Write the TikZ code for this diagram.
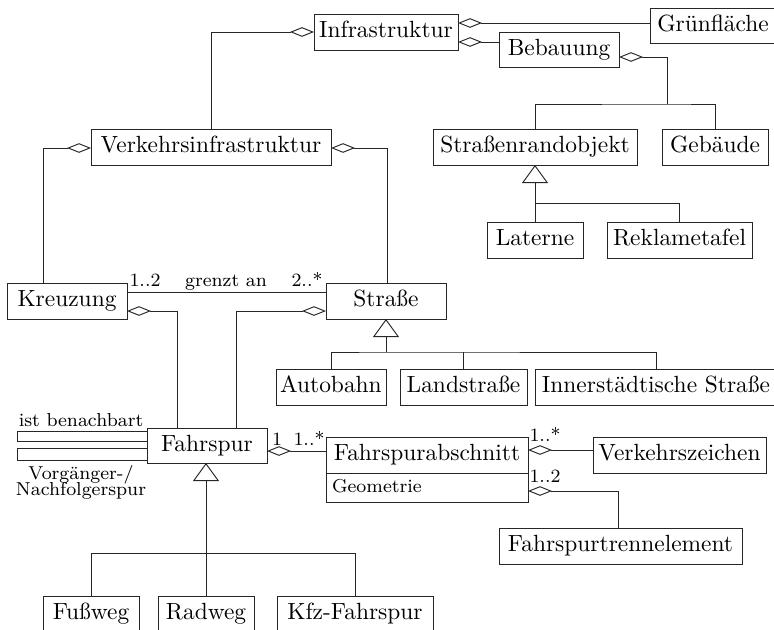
\documentclass[tikz,border=0pt]{standalone}
\usepackage{fontspec}
\usetikzlibrary{arrows.meta}

% class box given by its corners (x1,y1)-(x2,y2) in picture units
\newcommand\umlclass[6]{%
  \node[cls, minimum width={(#4-#2)*0.427pt}, minimum height={(#5-#3)*0.427pt}]
    (#1) at ({(#2+#4)/2},{(#3+#5)/2}) {#6};}

\tikzset{
  cls/.style={draw, rectangle, inner sep=0pt, outer sep=0pt,
    text height=6.94pt, text depth=1.94pt},
  lab/.style={font=\footnotesize, inner sep=0pt, anchor=base},
  agg/.style={{Diamond[open,length=10.25pt,width=4.1pt]}-},
  gen/.style={-{Triangle[open,length=7.7pt,width=11.1pt]}},
}

\begin{document}
\begin{tikzpicture}[x=0.427pt, y=-0.427pt, line width=0.4pt, draw=black!85]
\useasboundingbox (0,0) rectangle (774,629);

% classes
\umlclass{infra}{314}{14}{458}{50}{Infrastruktur}
\umlclass{gruen}{650}{8}{776}{43}{Grünfläche}
\umlclass{bebau}{499}{32}{619}{67}{Bebauung}
\umlclass{vinfra}{91}{129}{331}{165}{Verkehrsinfrastruktur}
\umlclass{srand}{433}{129}{637}{165}{Straßenrandobjekt}
\umlclass{geb}{662}{129}{768}{165}{Gebäude}
\umlclass{lat}{487}{222}{583}{258}{Laterne}
\umlclass{rekl}{607}{222}{752}{258}{Reklametafel}
\umlclass{kreuz}{7}{283}{127}{319}{Kreuzung}
\umlclass{str}{326}{283}{446}{319}{Straße}
\umlclass{auto}{276}{369}{386}{405}{Autobahn}
\umlclass{land}{400}{369}{527}{405}{Landstraße}
\umlclass{inner}{535}{369}{777}{405}{Innerstädtische Straße}
\umlclass{fspur}{147}{428}{267}{463}{Fahrspur}
\umlclass{fab}{326}{437}{528}{473}{Fahrspurabschnitt}
\node[cls, minimum width={202*0.427pt}, minimum height={29*0.427pt},
  text width={190*0.427pt}, align=left, font=\footnotesize,
  text height=5.5pt, text depth=1.5pt]
  (fgeo) at (427,487.5) {Geometrie};
\umlclass{vz}{593}{437}{766}{473}{Verkehrszeichen}
\umlclass{ftrenn}{499}{528}{742}{564}{Fahrspurtrennelement}
\umlclass{fuss}{43}{596}{139}{632}{Fußweg}
\umlclass{rad}{158}{596}{254}{632}{Radweg}
\umlclass{kfz}{277}{596}{433}{632}{Kfz-Fahrspur}

% aggregations at the top
\draw[agg] (infra.west) -| (vinfra.north);
\coordinate (g) at (0,23);
\draw[agg] (infra.east |- g) -- (gruen.west |- g);
\coordinate (b) at (0,42);
\draw[agg] (infra.east |- b) -- (bebau.west |- b);
\coordinate (bb) at (667,57);
\coordinate (bj) at (667,104);
\draw[agg] (bebau.east |- bb) -- (bb) -- (bj);
\draw (srand.north) |- (bj) -| (geb.north);

% specialisations of Straßenrandobjekt
\coordinate (sj) at (535,203);
\draw[gen] (sj) -- (srand.south);
\draw (lat.north) |- (sj) -| (rekl.north);

% parts of Verkehrsinfrastruktur
\coordinate (vl) at (43,148);
\draw[agg] (vinfra.west |- vl) -- (vl) -- (vl |- kreuz.north);
\coordinate (vr) at (387,148);
\draw[agg] (vinfra.east |- vr) -- (vr) -- (vr |- str.north);

% Kreuzung -- Straße
\coordinate (ga) at (0,292);
\draw (kreuz.east |- ga) -- (str.west |- ga);
\node[lab] (m12) at (145,286) {1..2};
\node[lab] (mga) at (226,286) {grenzt an};
\node[lab] (m2s) at (307,286) {2..*};

% Fahrspur as part of Kreuzung and Straße
\coordinate (kf) at (177,311);
\draw[agg] (kreuz.east |- kf) -- (kf) -- (kf |- fspur.north);
\coordinate (sf) at (236,311);
\draw[agg] (str.west |- sf) -- (sf) -- (sf |- fspur.north);

% specialisations of Straße
\coordinate (sj2) at (386,352);
\draw[gen] (sj2) -- (sj2 |- str.south);
\draw (auto.north) |- (sj2) -| (inner.north);
\draw (land.north) -- (land.north |- sj2);

% reflexive associations of Fahrspur
\coordinate (a1) at (17,431);
\coordinate (a2) at (17,441);
\coordinate (a3) at (17,448);
\coordinate (a4) at (17,460);
\draw (fspur.west |- a1) -- (a1) -- (a2) -- (fspur.west |- a2);
\draw (fspur.west |- a3) -- (a3) -- (a4) -- (fspur.west |- a4);
\node[lab] (nb) at (81,426) {ist benachbart};
\node[lab, align=center, anchor=north] (vn) at (81,465)
  {Vorgänger-/\\[-2.7pt]Nachfolgerspur};

% Fahrspur -- Fahrspurabschnitt
\coordinate (fa) at (0,451);
\draw[agg] (fspur.east |- fa) -- (fab.west |- fa);
\node[lab] (m1) at (277,445) {1};
\node[lab] (m1s) at (309,445) {1..*};

% parts of Fahrspurabschnitt
\coordinate (vzl) at (0,450);
\draw[agg] (fab.east |- vzl) -- (vz.west |- vzl);
\node[lab] (mvz) at (545,441) {1..*};
\coordinate (ft) at (618,491);
\draw[agg] (fgeo.east |- ft) -- (ft) -- (ft |- ftrenn.north);
\node[lab] (mft) at (545,482) {1..2};

% specialisations of Fahrspur
\coordinate (fj) at (206,553);
\draw[gen] (fj) -- (fj |- fspur.south);
\draw (fuss.north) |- (fj) -| (kfz.north);
\draw (rad.north) -- (rad.north |- fj);
\end{tikzpicture}
\end{document}
